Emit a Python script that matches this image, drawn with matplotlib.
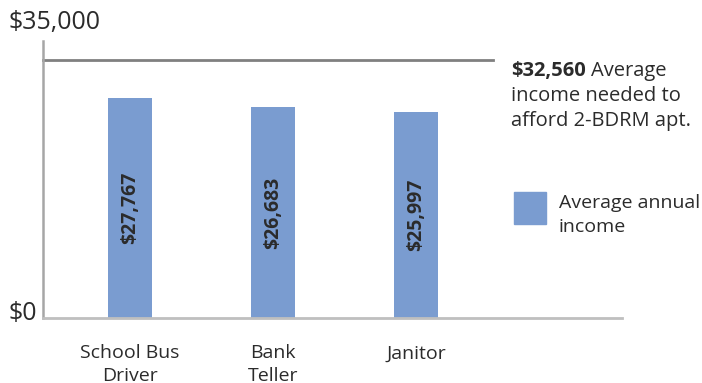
import matplotlib
matplotlib.use("Agg")
import matplotlib.pyplot as plt

# data
jobs = ["School Bus\nDriver", "Bank\nTeller", "Janitor"]
income = [27767, 26683, 25997]
needed = 32560
needed_lines = ["Average", "income needed to", "afford 2-BDRM apt."]
y_labels = ["$0", "$35,000"]
legend_label = "Average annual\nincome"

BAR = "#7A9CD0"
TXT = "#2b2b2b"
W, H = 702, 383

plt.rcParams["font.family"] = ["Open Sans", "DejaVu Sans"]

fig = plt.figure(figsize=(W / 100, H / 100), dpi=100)
ax = fig.add_axes([43 / W, 1 - 318 / H, (622 - 43) / W, (318 - 41) / H])


def px(x, y):
    """pixel position (from top-left) -> figure fraction"""
    return x / W, 1 - y / H


xs = list(range(len(jobs)))
ax.bar(xs, income, width=0.31, color=BAR, zorder=2)
ax.set_xlim(-0.608, 3.44)
ax.set_ylim(0, 35000)

for x, v in zip(xs, income):
    ax.text(x, v / 2, f"${v:,}", rotation=90, ha="center", va="center",
            fontsize=14, fontweight="bold", color=TXT, zorder=3)

# threshold line
ax.plot([-0.608, 2.54], [needed, needed], color="#808080", lw=2,
        clip_on=False, zorder=1)

for s in ("top", "right"):
    ax.spines[s].set_visible(False)
ax.spines["left"].set_color("#a6a6a6")
ax.spines["left"].set_linewidth(1.8)
ax.spines["bottom"].set_color("#bfbfbf")
ax.spines["bottom"].set_linewidth(2)
ax.set_xticks([])
ax.set_yticks([])

# category labels
for x, lab in zip(xs, jobs):
    ax.text(x, -0.095, lab, transform=ax.get_xaxis_transform(), ha="center",
            va="top", fontsize=14, color=TXT, linespacing=1.3)

# axis end labels
fig.text(*px(8, 313), y_labels[0], fontsize=18, color=TXT, va="center", ha="left")
fig.text(*px(9, 22), y_labels[1], fontsize=18, color=TXT, va="center", ha="left")

# annotation for the threshold
fs = 14.5
bold = fig.text(*px(511, 71), f"${needed:,}", fontsize=fs, fontweight="bold",
                color=TXT, va="center", ha="left")
fig.canvas.draw()
bb = bold.get_window_extent()
fig.text((bb.x1 + 5) / W, 1 - 71 / H, needed_lines[0], fontsize=fs,
         color=TXT, va="center", ha="left")
for i, line in enumerate(needed_lines[1:]):
    fig.text(*px(511, 96 + 25 * i), line, fontsize=fs, color=TXT,
             va="center", ha="left")

# legend
fig.patches.append(plt.Rectangle(px(514, 224), 32 / W, 32 / H,
                                 transform=fig.transFigure, color=BAR))
fig.text(*px(559, 215), legend_label, fontsize=14, color=TXT, va="center",
         ha="left", linespacing=1.45)

fig.savefig("out.png", dpi=100)
